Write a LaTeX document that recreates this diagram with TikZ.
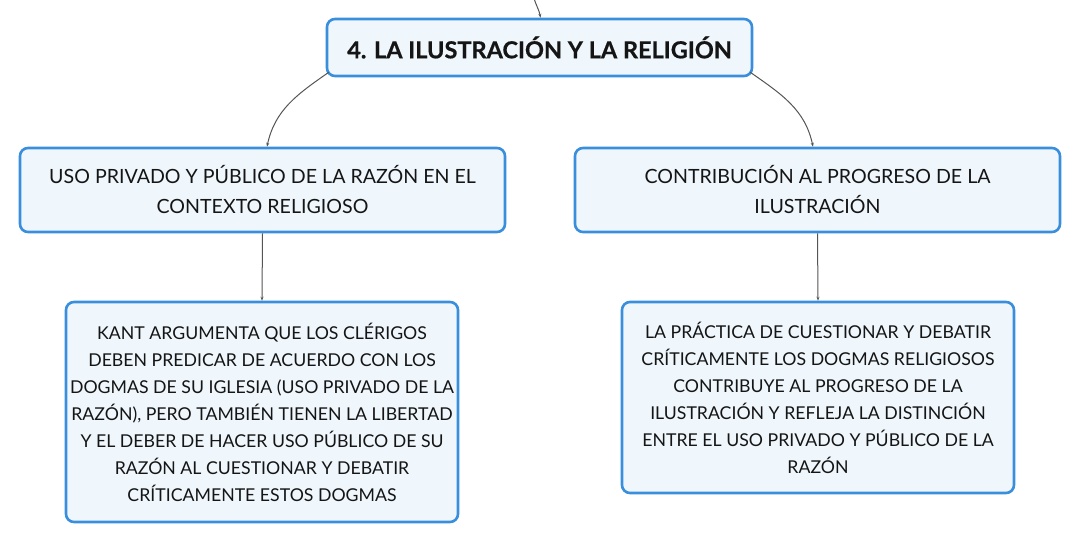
\documentclass[tikz,border=0pt]{standalone}
\usepackage{fontspec}
\setmainfont{Lato}
\newfontfamily\titlefont[FakeBold=0.6]{Lato}
\usetikzlibrary{arrows.meta,calc}
\definecolor{bordercol}{HTML}{3A8FDD}
\definecolor{fillcol}{HTML}{EFF7FD}
\definecolor{linecol}{HTML}{555555}
\definecolor{textcol}{HTML}{151515}
\tikzset{
  box/.style={draw=bordercol, fill=fillcol, line width=2.6pt, rounded corners=8pt, text=textcol, align=center, inner sep=0pt},
  conn/.style={draw=linecol, line width=1pt, -{Stealth[length=4pt,width=3pt]}},
}
\begin{document}
\begin{tikzpicture}[x=1pt,y=-1pt]
\useasboundingbox (0,0) rectangle (1081,543);
\node[box, minimum width=425pt, minimum height=57pt, font=\fontsize{23.5}{28}\selectfont\titlefont\bfseries] (top) at (539.5,47.5) {4. LA ILUSTRACIÓN Y LA RELIGIÓN};
\node[box, minimum width=485pt, minimum height=84pt, font=\fontsize{19.6}{30}\selectfont] (m1) at (262.5,190) {USO PRIVADO Y PÚBLICO DE LA RAZÓN EN EL\\CONTEXTO RELIGIOSO};
\node[box, minimum width=485pt, minimum height=84pt, font=\fontsize{19.6}{30}\selectfont] (m2) at (817.5,190) {CONTRIBUCIÓN AL PROGRESO DE LA\\ILUSTRACIÓN};
\node[box, minimum width=392pt, minimum height=220pt, font=\fontsize{17.7}{27}\selectfont] (b1) at (262,412) {KANT ARGUMENTA QUE LOS CLÉRIGOS\\DEBEN PREDICAR DE ACUERDO CON LOS\\DOGMAS DE SU IGLESIA (USO PRIVADO DE LA\\RAZÓN), PERO TAMBIÉN TIENEN LA LIBERTAD\\Y EL DEBER DE HACER USO PÚBLICO DE SU\\RAZÓN AL CUESTIONAR Y DEBATIR\\CRÍTICAMENTE ESTOS DOGMAS};
\node[box, minimum width=392pt, minimum height=191pt, font=\fontsize{17.7}{27}\selectfont] (b2) at (818,397.5) {LA PRÁCTICA DE CUESTIONAR Y DEBATIR\\CRÍTICAMENTE LOS DOGMAS RELIGIOSOS\\CONTRIBUYE AL PROGRESO DE LA\\ILUSTRACIÓN Y REFLEJA LA DISTINCIÓN\\ENTRE EL USO PRIVADO Y PÚBLICO DE LA\\RAZÓN};
\coordinate (in) at (534,-2);
\draw[conn] (in) to[out=-75, in=100] ([xshift=1pt]top.north);
\draw[conn] ([xshift=3pt,yshift=5pt]top.south west) to[out=215, in=78] ([xshift=4.5pt]m1.north);
\draw[conn] ([xshift=-3pt,yshift=5pt]top.south east) to[out=-35, in=102] ([xshift=-4.5pt]m2.north);
\draw[conn] (m1.south) -- (b1.north);
\draw[conn] (m2.south) -- (b2.north);
\end{tikzpicture}
\end{document}
